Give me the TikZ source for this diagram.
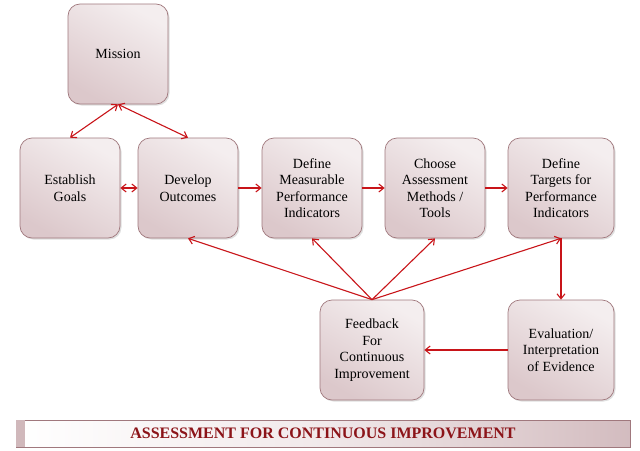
\documentclass[tikz,border=0pt]{standalone}
\usepackage{fontspec}
\setmainfont{Liberation Serif}
\usetikzlibrary{arrows.meta,shadows}
\definecolor{boxedge}{RGB}{160,120,125}
\definecolor{boxdark}{RGB}{220,200,203}
\definecolor{arr}{RGB}{200,20,25}
\definecolor{title}{RGB}{140,20,25}
\tikzset{
 box/.style={draw=boxedge,line width=0.7pt,rounded corners=12pt,minimum width=100pt,minimum height=100pt,
   shading=axis,top color=white!70!boxdark,bottom color=boxdark,shading angle=-30,
   align=center,font=\fontsize{14}{16.5}\selectfont,drop shadow={opacity=0.25,shadow xshift=1.5pt,shadow yshift=-1.5pt}},
 con/.style={draw=arr,line width=1.1pt,-{Straight Barb[length=5pt,width=8pt]}},
 dcon/.style={con,{Straight Barb[length=5pt,width=8pt]}-{Straight Barb[length=5pt,width=8pt]}}
}
\begin{document}
\begin{tikzpicture}[x=1pt,y=-1pt]
\useasboundingbox (0,0) rectangle (640,450);
\node[box] (mis) at (118,54) {Mission};
\node[box] (est) at (70,188) {Establish\\Goals};
\node[box] (dev) at (188,188) {Develop\\Outcomes};
\node[box] (dmp) at (312,188) {Define\\Measurable\\Performance\\Indicators};
\node[box] (cho) at (435,188) {Choose\\Assessment\\Methods /\\Tools};
\node[box,minimum width=106pt] (dtp) at (561,188) {Define\\Targets for\\Performance\\Indicators};
\node[box,minimum width=104pt] (fb) at (372,350) {Feedback\\For\\Continuous\\Improvement};
\node[box,minimum width=106pt] (ev) at (561,350) {Evaluation/\\Interpretation\\of Evidence};
\draw[dcon] (mis.south) -- (est.north);
\draw[dcon] (mis.south) -- (dev.north);
\draw[dcon] (est) -- (dev);
\draw[con] (dev) -- (dmp);
\draw[con] (dmp) -- (cho);
\draw[con] (cho) -- (dtp);
\draw[con] (dtp.south) -- (ev.north);
\draw[con] (ev) -- (fb);
\draw[con] (fb.north) -- (dev.south);
\draw[con] (fb.north) -- (dmp.south);
\draw[con] (fb.north) -- (cho.south);
\draw[con] (fb.north) -- (dtp.south);
\node[draw=boxedge,line width=0.7pt,minimum width=614pt,minimum height=27pt,inner sep=0pt,
  left color=white,right color=boxdark!85!boxedge,middle color=white!60!boxdark] (ban) at (323,433.5) {};
\fill[boxdark!80!boxedge] (ban.north west) rectangle ([xshift=9pt]ban.south west);
\node[text=title,font=\bfseries\fontsize{16}{18}\selectfont] (bt) at (ban.center) {ASSESSMENT FOR CONTINUOUS IMPROVEMENT};
\end{tikzpicture}
\end{document}
